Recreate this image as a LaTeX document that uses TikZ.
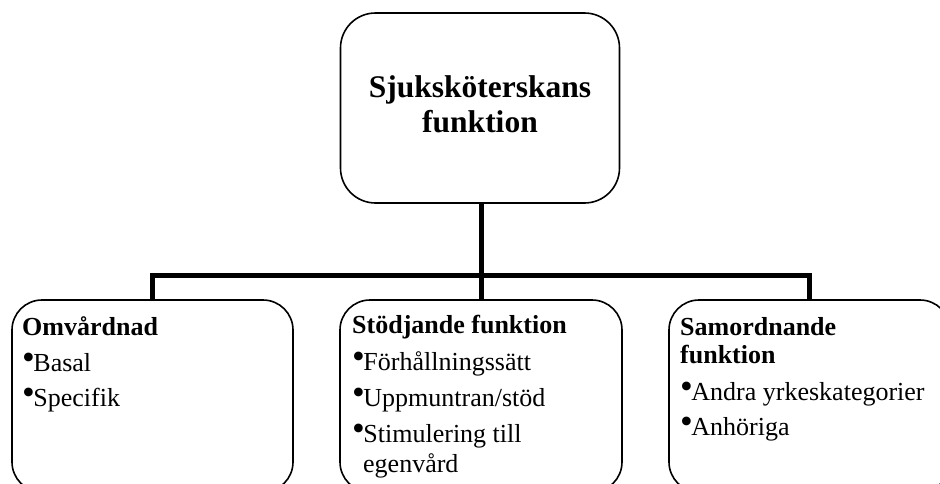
\documentclass[tikz,border=0pt]{standalone}
\usepackage{fontspec}
\setmainfont{Liberation Serif}
\newcommand\bul{\smash{\raisebox{0.06em}{\scalebox{1.4}{•}}}\hspace{-1.5pt}}
\begin{document}
\begin{tikzpicture}[x=1pt,y=-1pt,
  box/.style={draw, line width=1.6pt, rounded corners=#1, inner sep=0pt},
  conn/.style={line width=5pt, line join=miter},
  hd/.style={anchor=base west, inner sep=0pt, font=\fontsize{26}{26}\selectfont\bfseries},
  it/.style={anchor=base west, inner sep=0pt, font=\fontsize{26}{26}\selectfont},
  tt/.style={anchor=base, inner sep=0pt, font=\fontsize{31.5}{31.5}\selectfont\bfseries}]
\useasboundingbox (0,0) rectangle (940,483);
\clip (0,0) rectangle (940,483);
% boxes
\node[box=35pt, minimum width=279pt, minimum height=190pt] (top) at (480,108) {};
\node[box=30pt, minimum width=281pt, minimum height=192pt] (left) at (152.5,396) {};
\node[box=30pt, minimum width=282pt, minimum height=192pt] (mid) at (481,396) {};
\node[box=30pt, minimum width=281pt, minimum height=192pt] (right) at (809.5,396) {};
% connectors
\coordinate (bar) at (481,275);
\draw[conn] (top.south -| mid.north) -- (mid.north);
\draw[conn] (left.north) |- (bar) -| (right.north);
% top text
\node[tt] (t1) at (480,97) {Sjuksköterskans};
\node[tt] (t2) at (480,132) {funktion};
% left box
\node[hd] (l1) at (22,335) {Omvårdnad};
\node[it] (l2) at (22,371) {\bul Basal};
\node[it] (l3) at (22,406) {\bul Specifik};
% middle box
\node[hd] (m1) at (352,333) {Stödjande funktion};
\node[it] (m2) at (352,370) {\bul Förhållningssätt};
\node[it] (m3) at (352,406) {\bul Uppmuntran/stöd};
\node[it] (m4) at (352,442) {\bul Stimulering till};
\node[it] (m5) at (363,472) {egenvård};
% right box
\node[hd] (r1) at (680,335) {Samordnande};
\node[hd] (r2) at (680,363) {funktion};
\node[it] (r3) at (680,400) {\bul Andra yrkeskategorier};
\node[it] (r4) at (680,435) {\bul Anhöriga};
\end{tikzpicture}
\end{document}
